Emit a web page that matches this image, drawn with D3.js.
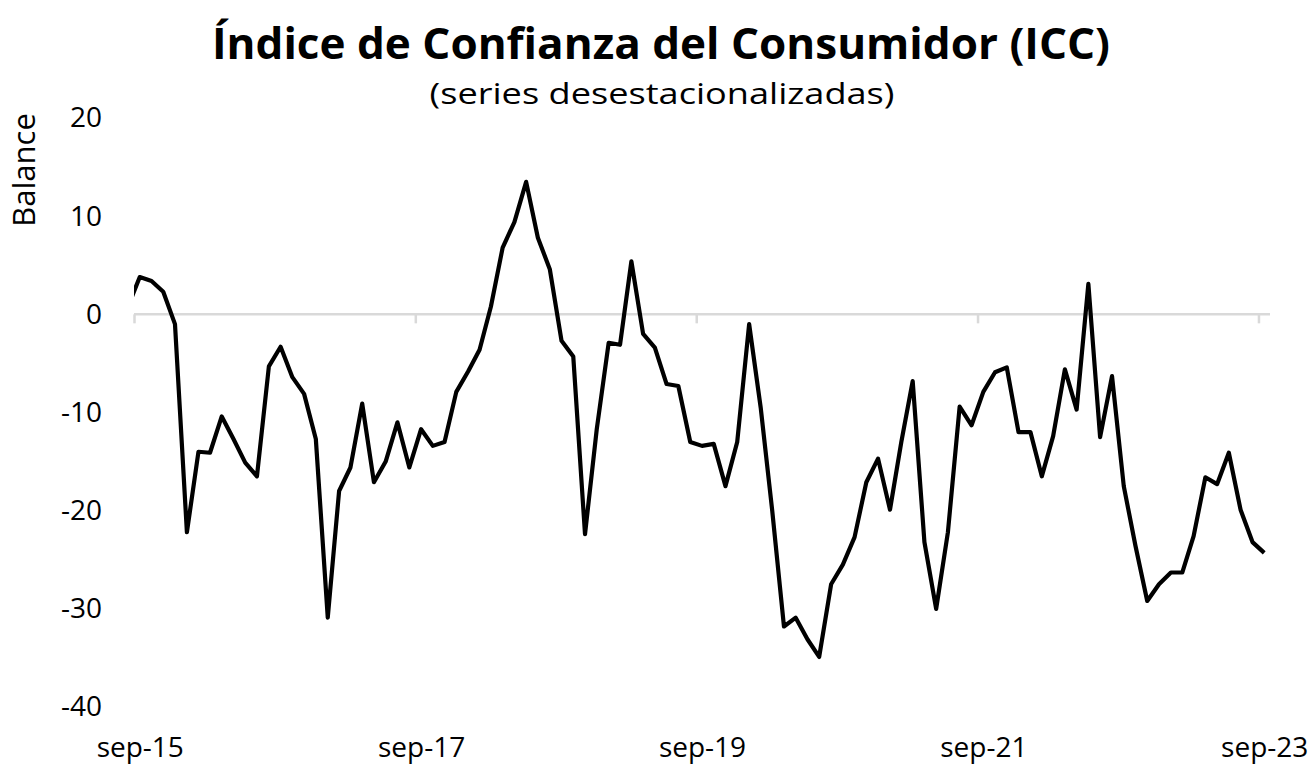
<!DOCTYPE html>
<html>
<head>
<meta charset="utf-8">
<script src="https://cdn.jsdelivr.net/npm/d3@7"></script>
<style>
  body { margin: 0; background: #fff; }
  svg { display: block; font-family: "Open Sans", sans-serif; }
</style>
</head>
<body>
<svg width="1316" height="766"></svg>
<script>
let width = 1316,
  height = 766;

// First month of the series (aug-15, clipped at the left edge), one value per month
let startMonth = new Date(2015, 7, 1);
let values = [
  0.8,
  3.8, 3.4, 2.3, -1.0, -22.2, -14.0, -14.1, -10.4, -12.7, -15.1, -16.5, -5.3,
  -3.3, -6.4, -8.1, -12.7, -30.9, -18.0, -15.6, -9.1, -17.1, -15.0, -11.0, -15.6,
  -11.7, -13.4, -13.0, -7.9, -5.8, -3.6, 0.8, 6.8, 9.4, 13.5, 7.8, 4.6,
  -2.7, -4.3, -22.4, -11.7, -2.9, -3.1, 5.4, -2.0, -3.4, -7.1, -7.3, -13.0,
  -13.4, -13.2, -17.5, -13.0, -1.0, -9.5, -20.0, -31.8, -30.9, -33.1, -34.9, -27.5,
  -25.5, -22.7, -17.1, -14.7, -19.9, -13.0, -6.8, -23.2, -30.0, -22.2, -9.4, -11.3,
  -7.9, -5.9, -5.4, -12.0, -12.0, -16.5, -12.4, -5.6, -9.7, 3.1, -12.5, -6.3,
  -17.5, -23.6, -29.2, -27.5, -26.3, -26.3, -22.6, -16.6, -17.3, -14.1, -19.9, -23.2,
  -24.3
];
let yTicks = [-40, -30, -20, -10, 0, 10, 20];
let xTickDates = [new Date(2015, 8, 1), new Date(2017, 8, 1), new Date(2019, 8, 1),
  new Date(2021, 8, 1), new Date(2023, 8, 1)];
let monthNames = ["ene", "feb", "mar", "abr", "may", "jun", "jul", "ago", "sep", "oct", "nov", "dic"];

let svg = d3.select("svg").attr("viewBox", "0 0 " + width + " " + height);

let plotLeft = 134, plotRight = 1270, plotTop = 118, plotBottom = 707;

// month midpoints
let data = values.map((v, k) => {
  let d0 = d3.timeMonth.offset(startMonth, k);
  let d1 = d3.timeMonth.offset(startMonth, k + 1);
  return { date: new Date((+d0 + +d1) / 2), value: v };
});

let x = d3.scaleTime()
  .domain([new Date(2015, 8, 1), new Date(2023, 9, 1)])
  .range([plotLeft, plotRight]);

let y = d3.scaleLinear().domain([-40, 20]).range([plotBottom, plotTop]);

// Title
svg.append("text")
  .attr("x", 661).attr("y", 59)
  .attr("text-anchor", "middle")
  .attr("textLength", 898).attr("lengthAdjust", "spacingAndGlyphs")
  .style("font-size", "43px").style("font-weight", "bold")
  .text("Índice de Confianza del Consumidor (ICC)");

svg.append("text")
  .attr("x", 662).attr("y", 104)
  .attr("text-anchor", "middle")
  .attr("textLength", 465).attr("lengthAdjust", "spacingAndGlyphs")
  .style("font-size", "30px")
  .text("(series desestacionalizadas)");

// Y axis label
svg.append("text")
  .attr("transform", "translate(35,170) rotate(-90)")
  .attr("text-anchor", "middle")
  .style("font-size", "31px")
  .text("Balance");

// Y axis (labels only)
let yAxis = svg.append("g")
  .attr("transform", "translate(" + plotLeft + ",0)")
  .call(d3.axisLeft(y).tickValues(yTicks).tickSize(0).tickPadding(32)
    .tickFormat((d) => String(d)));
yAxis.select(".domain").remove();
yAxis.selectAll("text").style("font-size", "28px").style("font-family", "Open Sans").attr("fill", "#000");

// X axis at zero with tick marks
let xAxis = svg.append("g")
  .attr("transform", "translate(0," + y(0) + ")")
  .call(d3.axisBottom(x).tickValues(xTickDates).tickSize(9).tickFormat(""));
xAxis.select(".domain").attr("stroke", "#d9d9d9").attr("stroke-width", 2.5)
  .attr("d", "M" + plotLeft + ",0H" + plotRight);
xAxis.selectAll(".tick line").attr("stroke", "#d9d9d9").attr("stroke-width", 2.5);

// X labels at the bottom, centred on the month
let halfMonth = (x(new Date(2015, 9, 1)) - x(new Date(2015, 8, 1))) / 2;
let xLabels = svg.append("g")
  .attr("transform", "translate(0," + plotBottom + ")")
  .call(d3.axisBottom(x).tickValues(xTickDates).tickSize(0).tickPadding(30)
    .tickFormat((d) => monthNames[d.getMonth()] + "-" + d3.timeFormat("%y")(d)));
xLabels.select(".domain").remove();
xLabels.selectAll("text")
  .attr("dx", halfMonth)
  .style("font-size", "28px").style("font-family", "Open Sans").attr("fill", "#000");

// Line, clipped to the plot area
svg.append("clipPath").attr("id", "plot")
  .append("rect")
  .attr("x", plotLeft).attr("y", 0)
  .attr("width", plotRight - plotLeft).attr("height", height);

let line = d3.line()
  .x((d) => x(d.date))
  .y((d) => y(d.value));

svg.append("path")
  .datum(data)
  .attr("clip-path", "url(#plot)")
  .attr("d", line)
  .attr("fill", "none")
  .attr("stroke", "#000")
  .attr("stroke-width", 4.2)
  .attr("stroke-linejoin", "round");
</script>
</body>
</html>
